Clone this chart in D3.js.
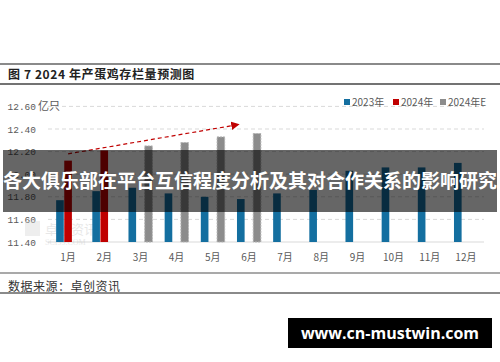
<!DOCTYPE html>
<html><head><meta charset="utf-8">
<script src="https://cdn.jsdelivr.net/npm/d3@7"></script>
<style>
html,body{margin:0;padding:0;background:#fff;}
svg{display:block;}
</style></head>
<body>
<svg id="c" width="500" height="362"></svg>
<script>
const months = ["1月","2月","3月","4月","5月","6月","7月","8月","9月","10月","11月","12月"];
const seriesNames = ["2023年","2024年","2024年E"];
const v2023 = [11.77,11.85,11.88,11.83,11.80,11.78,11.83,11.86,12.03,12.06,12.06,12.10];
const v2024 = [12.12,12.21,null,null,null,null,null,null,null,null,null,null];
const v2024E = [null,null,12.25,12.28,12.33,12.36,null,null,null,null,null,null];
const yTicks = [11.40,11.60,11.80,12.00,12.20,12.40,12.60];
const arrowFrom = [0, 12.18];   // [band index, value]
const arrowTo = [4.72, 12.44];
const colors = ["#146fa0","#c00000","#8c8c8c"];
const titleText = "图 7 2024 年产蛋鸡存栏量预测图";
const unitText = "亿只";
const sourceText = "数据来源：卓创资讯";
const bannerText = "各大俱乐部在平台互信程度分析及其对合作关系的影响研究";
const siteText = "www.cn-mustwin.com";

const svg = d3.select("#c");
const CJK = "'Noto Sans CJK SC', sans-serif";
const MONO = "'Liberation Mono','DejaVu Sans Mono', monospace";

// frame lines
svg.append("line").attr("x1",0).attr("x2",500).attr("y1",64).attr("y2",64).attr("stroke","#8a8a8a").attr("stroke-width",2);
svg.append("line").attr("x1",0).attr("x2",500).attr("y1",84).attr("y2",84).attr("stroke","#444").attr("stroke-width",1.5);
svg.append("line").attr("x1",0).attr("x2",500).attr("y1",273).attr("y2",273).attr("stroke","#555").attr("stroke-width",1.2);
svg.append("line").attr("x1",0).attr("x2",500).attr("y1",293).attr("y2",293).attr("stroke","#8a8a8a").attr("stroke-width",2);

svg.append("text").attr("x",8).attr("y",79).attr("font-family",CJK).attr("font-weight","bold")
  .attr("font-size",12).attr("letter-spacing",0.6).attr("fill","#222").text(titleText);
svg.append("text").attr("x",8).attr("y",291).attr("font-family",CJK)
  .attr("font-size",12).attr("letter-spacing",0.5).attr("fill","#333").text(sourceText);

const y = d3.scaleLinear().domain([11.40,12.60]).range([242,106.4]);
const x0 = d3.scaleBand().domain(months).range([50,484]).paddingInner(0.34).paddingOuter(0.17);
const x1 = d3.scaleBand().domain(seriesNames).range([0,x0.bandwidth()]).paddingInner(0.06);

// grid
svg.append("g").selectAll("line").data(yTicks.slice(1)).join("line")
  .attr("x1",48).attr("x2",484).attr("y1",d=>y(d)).attr("y2",d=>y(d))
  .attr("stroke","#d9d9d9").attr("stroke-dasharray","4,3").attr("stroke-width",1);
svg.append("line").attr("x1",48).attr("x2",484).attr("y1",y(11.40)).attr("y2",y(11.40))
  .attr("stroke","#d9d9d9").attr("stroke-width",1);

// y labels
svg.append("g").selectAll("text").data(yTicks).join("text")
  .attr("x",36).attr("y",d=>y(d)+3.5).attr("text-anchor","end")
  .attr("font-family",MONO).attr("font-size",9.5).attr("fill","#595959")
  .text(d=>d3.format(".2f")(d));
svg.append("text").attr("x",38).attr("y",y(12.60)+4).attr("font-family",CJK)
  .attr("font-size",11).attr("fill","#595959").text(unitText);

// watermark
const wm = svg.append("g").attr("opacity",0.35);
wm.append("rect").attr("x",25).attr("y",221).attr("width",15).attr("height",15).attr("fill","#cfcfcf");
wm.append("text").attr("x",45).attr("y",234).attr("font-family",CJK).attr("font-size",13).attr("fill","#bdbdbd").text("卓创资讯");
wm.append("text").attr("x",45).attr("y",245).attr("font-family","'Liberation Serif',serif").attr("font-size",8).attr("fill","#bdbdbd").text("SCI99.COM");

// bars
const allSeries = [v2023, v2024, v2024E];
const rows = [];
months.forEach((m,i)=>{
  allSeries.forEach((s,k)=>{ if(s[i]!=null) rows.push({m, k, name:seriesNames[k], v:s[i]}); });
});
svg.append("g").selectAll("rect").data(rows).join("rect")
  .attr("x",d=>x0(d.m)+x1(d.name))
  .attr("width",x1.bandwidth())
  .attr("y",d=>y(d.v))
  .attr("height",d=>y(11.40)-y(d.v))
  .attr("fill",d=>colors[d.k])
  .attr("stroke",d=>d.k===2?"#b5b5b5":"none")
  .attr("stroke-dasharray",d=>d.k===2?"2,1":null)
  .attr("stroke-width",1);

// x labels
svg.append("g").selectAll("text").data(months).join("text")
  .attr("x",m=>x0(m)+x0.bandwidth()/2).attr("y",261).attr("text-anchor","middle")
  .attr("font-family",CJK).attr("font-size",10).attr("fill","#595959").text(m=>m);

// arrow
const ax = i => x0(months[0]) + x0.bandwidth()/2 + i*x0.step();
svg.append("defs").append("marker").attr("id","ah").attr("viewBox","0 0 10 10")
  .attr("refX",9).attr("refY",5).attr("markerWidth",7).attr("markerHeight",7).attr("orient","auto")
  .append("path").attr("d","M0,0L10,5L0,10z").attr("fill","#c00000");
svg.append("line").attr("x1",ax(arrowFrom[0])).attr("y1",y(arrowFrom[1]))
  .attr("x2",ax(arrowTo[0])).attr("y2",y(arrowTo[1]))
  .attr("stroke","#c00000").attr("stroke-width",1.2).attr("stroke-dasharray","4,3")
  .attr("marker-end","url(#ah)");

// legend
const lg = svg.append("g");
const lx = [344,393,440];
seriesNames.forEach((n,k)=>{
  lg.append("rect").attr("x",lx[k]).attr("y",99).attr("width",6).attr("height",6).attr("fill",colors[k]);
  lg.append("text").attr("x",lx[k]+8).attr("y",106).attr("font-family",CJK).attr("font-size",10)
    .attr("fill","#595959").text(n);
});

// banner overlay
svg.append("rect").attr("x",3).attr("y",150).attr("width",494).attr("height",62).attr("fill","rgba(0,0,0,0.6)");
svg.append("text").attr("x",250).attr("y",188).attr("text-anchor","middle")
  .attr("font-family",CJK).attr("font-weight","bold").attr("font-size",19)
  .attr("fill","#fff").text(bannerText);

// site box
svg.append("rect").attr("x",288).attr("y",318).attr("width",204).attr("height",30).attr("fill","#000");
svg.append("text").attr("x",390).attr("y",339).attr("text-anchor","middle")
  .attr("font-family","'Open Sans','DejaVu Sans',sans-serif").attr("font-weight","bold").attr("font-size",16)
  .attr("fill","#fff").text(siteText);
</script>
</body></html>
